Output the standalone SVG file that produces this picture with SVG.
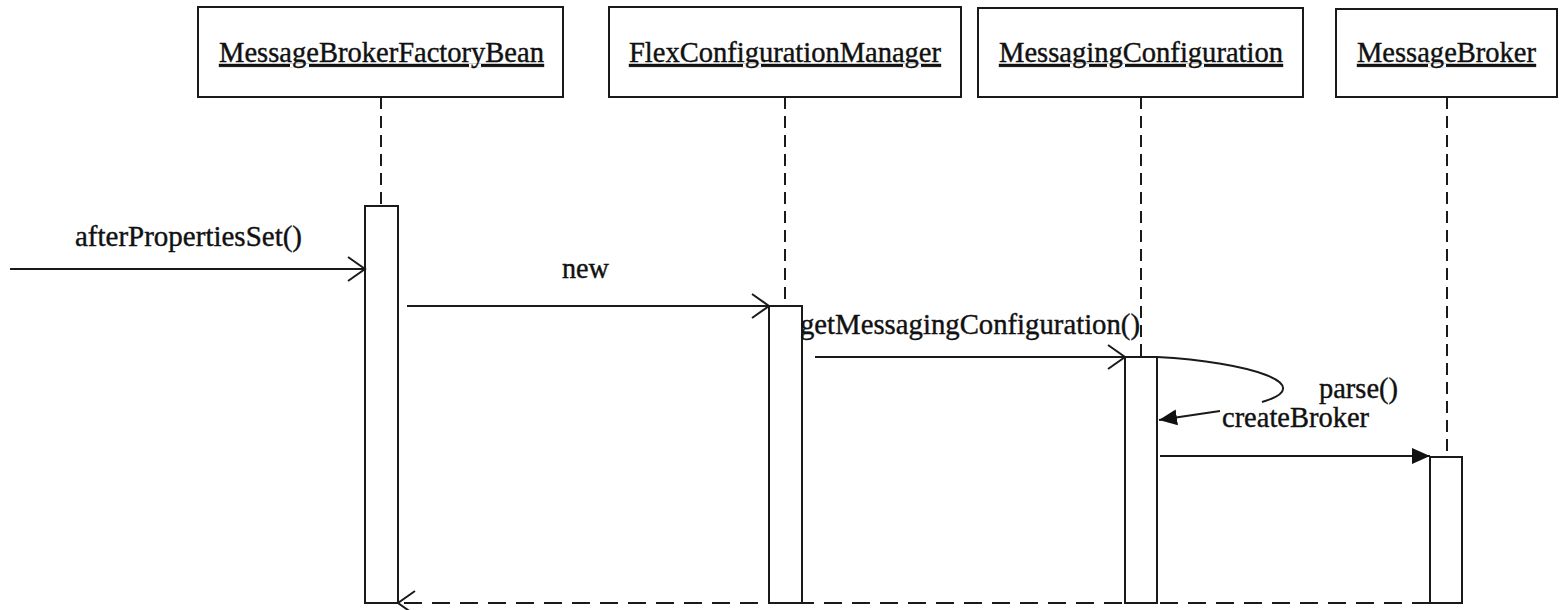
<svg xmlns="http://www.w3.org/2000/svg" width="1562" height="610" viewBox="0 0 1562 610">
<style>
.box{fill:#fff;stroke:#1a1a1a;stroke-width:2}
.act{fill:#fff;stroke:#1a1a1a;stroke-width:2}
.life{stroke:#1a1a1a;stroke-width:2;stroke-dasharray:12 7;fill:none}
.msg{stroke:#1a1a1a;stroke-width:2;fill:none}
.ret{stroke:#1a1a1a;stroke-width:2;fill:none;stroke-dasharray:18 10}
.t{font-family:"Liberation Serif","Times New Roman",serif;font-size:29px;fill:#111;stroke:#111;stroke-width:0.4}
.h{font-family:"Liberation Serif","Times New Roman",serif;font-size:29px;fill:#111;stroke:#111;stroke-width:0.4;text-decoration:underline}
</style>
<defs>
<marker id="open" markerUnits="userSpaceOnUse" markerWidth="22" markerHeight="28" refX="18" refY="13" orient="auto">
<path d="M1,1 L18,13 L1,25" fill="none" stroke="#1a1a1a" stroke-width="2"/>
</marker>
<marker id="filled" markerUnits="userSpaceOnUse" markerWidth="20" markerHeight="18" refX="18" refY="9" orient="auto">
<path d="M0,1 L18,9 L0,17 Z" fill="#111"/>
</marker>
</defs>
<g id="n1">
<rect class="box" x="198" y="7" width="365" height="90"/>
<text class="h" x="219" y="62" textLength="325" lengthAdjust="spacingAndGlyphs">MessageBrokerFactoryBean</text>
<line class="life" x1="381" y1="97" x2="381" y2="206"/>
<rect class="act" x="365" y="206" width="33" height="397"/>
</g>
<g id="n2">
<rect class="box" x="609" y="7" width="352" height="90"/>
<text class="h" x="629" y="62" textLength="312" lengthAdjust="spacingAndGlyphs">FlexConfigurationManager</text>
<line class="life" x1="785" y1="97" x2="785" y2="306"/>
<rect class="act" x="769" y="306" width="33" height="297"/>
</g>
<g id="n3">
<rect class="box" x="978" y="8" width="325" height="89"/>
<text class="h" x="999" y="62" textLength="284" lengthAdjust="spacingAndGlyphs">MessagingConfiguration</text>
<line class="life" x1="1141" y1="97" x2="1141" y2="357"/>
<rect class="act" x="1125" y="357" width="32" height="246"/>
</g>
<g id="n4">
<rect class="box" x="1336" y="9" width="221" height="88"/>
<text class="h" x="1357" y="62" textLength="179" lengthAdjust="spacingAndGlyphs">MessageBroker</text>
<line class="life" x1="1447" y1="97" x2="1447" y2="457"/>
<rect class="act" x="1430" y="457" width="32" height="146"/>
</g>
<g id="connectors">
<line class="msg" x1="10" y1="269" x2="365" y2="269" marker-end="url(#open)"/>
<text class="t" x="75" y="246" textLength="227" lengthAdjust="spacingAndGlyphs">afterPropertiesSet()</text>
<line class="msg" x1="407" y1="306" x2="769" y2="306" marker-end="url(#open)"/>
<text class="t" x="562" y="278" textLength="47" lengthAdjust="spacingAndGlyphs">new</text>
<line class="msg" x1="815" y1="357" x2="1125" y2="357" marker-end="url(#open)"/>
<text class="t" x="800" y="334" textLength="340" lengthAdjust="spacingAndGlyphs">getMessagingConfiguration()</text>
<path class="msg" d="M1157,357 C1250,362 1320,385 1262,402"/>
<line class="msg" x1="1220" y1="411" x2="1159" y2="420" marker-end="url(#filled)"/>
<text class="t" x="1319" y="398" textLength="79" lengthAdjust="spacingAndGlyphs">parse()</text>
<text class="t" x="1222" y="427" textLength="147" lengthAdjust="spacingAndGlyphs">createBroker</text>
<line class="msg" x1="1160" y1="456" x2="1430" y2="456" marker-end="url(#filled)"/>
<line class="ret" x1="1430" y1="603" x2="398" y2="603" marker-end="url(#open)"/>
</g>
</svg>
